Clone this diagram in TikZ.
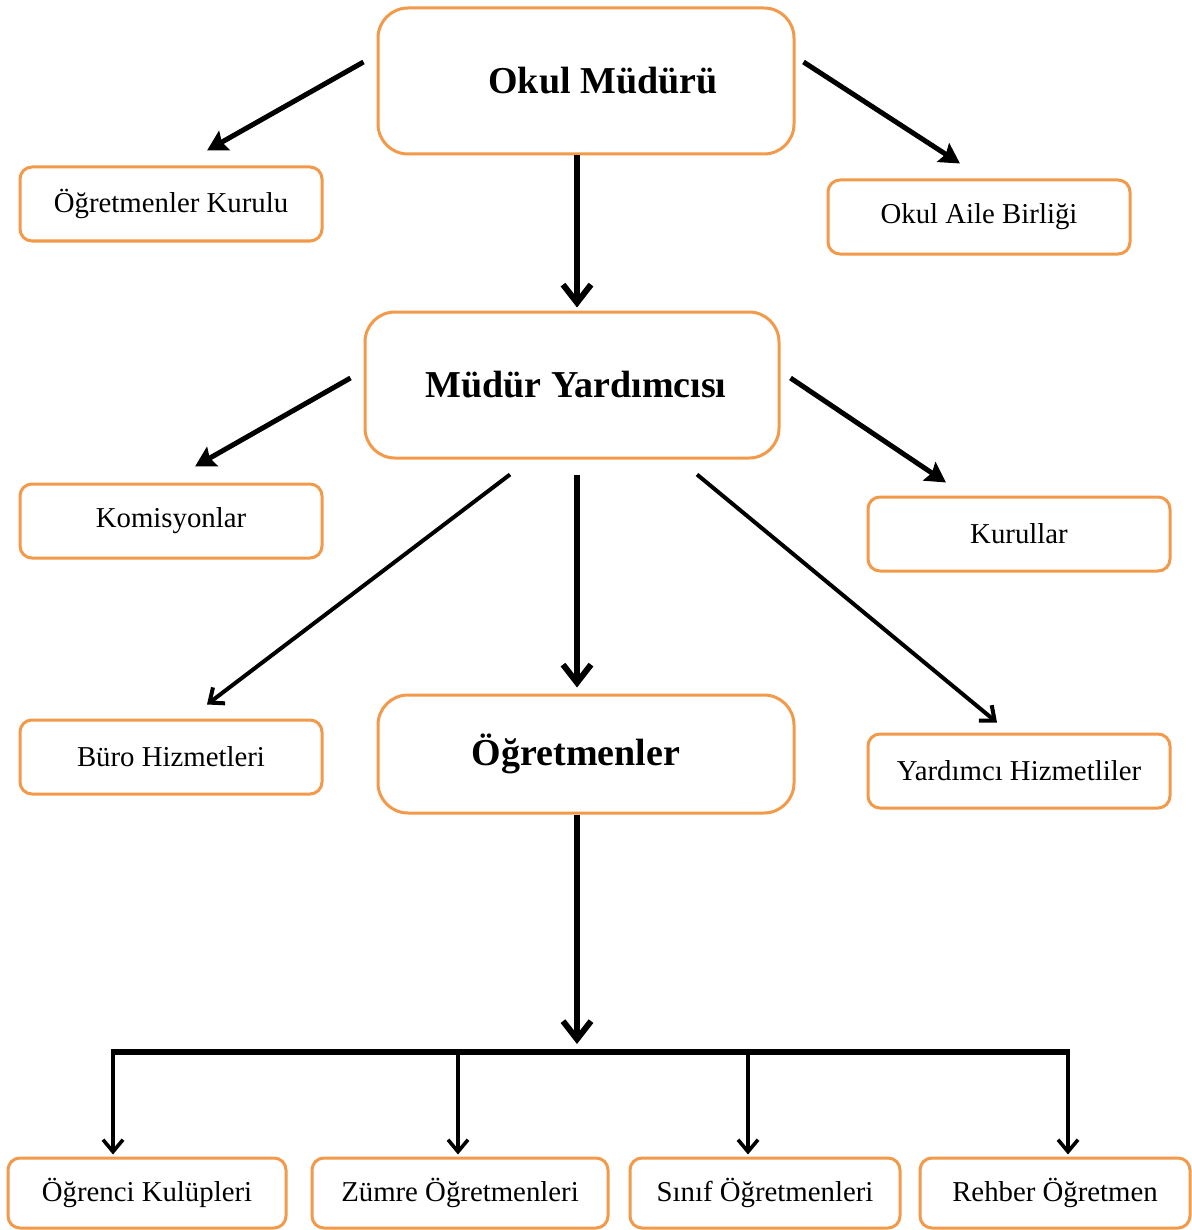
\documentclass[tikz,border=0pt]{standalone}
\usepackage{fontspec}
\setmainfont{Liberation Serif}
\usepackage{tikz}
\usetikzlibrary{arrows.meta}
\usetikzlibrary{positioning}
\definecolor{boxorange}{HTML}{F2994A}
\tikzset{>=Stealth}
\tikzset{
  smallbox/.style={draw=boxorange, line width=1.5pt, rounded corners=6pt, fill=white,
    minimum width=151pt, minimum height=37pt, inner sep=0pt,
    font=\fontsize{14.4}{17}\selectfont},
  bigbox/.style={draw=boxorange, line width=1.5pt, rounded corners=15pt, fill=white,
    minimum width=208pt, minimum height=73pt, inner sep=0pt,
    font=\fontsize{19}{22}\selectfont\bfseries},
  heavyarrow/.style={line width=2.5pt, -{Stealth[length=10pt,width=11pt,inset=1.5pt]}},
  downarrow/.style={line width=3pt, -{Straight Barb[length=9pt,width=14pt]}},
  thinarrow/.style={line width=2pt, -{Straight Barb[length=6pt,width=10pt]}},
  droparrow/.style={line width=1.8pt, -{Straight Barb[length=6pt,width=10pt]}}
}

\begin{document}
\begin{tikzpicture}[x=0.5pt, y=-0.5pt]
    \useasboundingbox (0,0) rectangle (1192,1230);

    % Draw the head and the boards beside it.
    \node[bigbox] (mudur) at (586, 81) {\hspace*{17pt}Okul Müdürü};
    \node[smallbox] (kurulu) at (171, 204) {Öğretmenler Kurulu};
    \node[smallbox] (aile) at (979, 217) {Okul Aile Birliği};

    % Draw the assistant and the units under it.
    \node[bigbox, minimum width=207pt] (yardimci) at (572, 385) {\hspace*{4pt}Müdür Yardımcısı};
    \node[smallbox] (komisyon) at (171, 521) {Komisyonlar};
    \node[smallbox] (kurullar) at (1019, 534) {Kurullar};
    \node[smallbox] (buro) at (171, 757) {Büro Hizmetleri};
    \node[bigbox, minimum height=59pt] (ogretmen) at (586, 754) {Öğretmenler\hspace*{10pt}};
    \node[smallbox] (hizmetli) at (1019, 771) {Yardımcı Hizmetliler};

    % Draw the bottom row.
    \node[smallbox, minimum width=139pt, minimum height=35pt] (kulup) at (147, 1193) {Öğrenci Kulüpleri};
    \node[smallbox, minimum width=148pt, minimum height=35pt] (zumre) at (460, 1193) {Zümre Öğretmenleri};
    \node[smallbox, minimum width=135pt, minimum height=35pt] (sinif) at (765, 1193) {Sınıf Öğretmenleri};
    \node[smallbox, minimum width=135pt, minimum height=35pt] (rehber) at (1055, 1193) {Rehber Öğretmen};

    % Arrows from the head.
    \draw[heavyarrow] ([shift={(-13,-19)}]mudur.west) -- ([shift={(36,-15)}]kurulu.north);
    \draw[heavyarrow] ([shift={(8,-19)}]mudur.east) -- ([shift={(-19,-15)}]aile.north);
    \draw[downarrow] ([xshift=-4.5pt]mudur.south) -- ([shift={(5,-3)}]yardimci.north);

    % Arrows from the assistant.
    \draw[heavyarrow] ([shift={(-13,-7)}]yardimci.west) -- ([shift={(24,-16)}]komisyon.north);
    \draw[heavyarrow] ([shift={(10,-7)}]yardimci.east) -- ([shift={(-73,-13)}]kurullar.north);
    \draw[thinarrow] ([shift={(-62,15)}]yardimci.south) -- ([shift={(36,-14)}]buro.north);
    \draw[downarrow] ([shift={(5,15)}]yardimci.south) -- ([shift={(-9,-6)}]ogretmen.north);
    \draw[thinarrow] ([shift={(125,15)}]yardimci.south) -- ([shift={(-22,-10)}]hizmetli.north);

    % Draw the bus to the bottom row.
    \coordinate (bus) at (577, 1052);
    \coordinate (busL) at (113, 1052);
    \coordinate (busR) at (1068, 1052);
    \draw[downarrow] ([xshift=-4.5pt]ogretmen.south) -- ([yshift=4pt]bus);
    \draw[line width=3pt] ([xshift=-0.9pt]busL) -- ([xshift=0.9pt]busR);
    \foreach \x/\b in {113/kulup, 458/zumre, 748/sinif, 1068/rehber}
      \draw[droparrow] (\x, 1052) -- ([yshift=1pt]\x,0 |- \b.north);
  \end{tikzpicture}
\end{document}
